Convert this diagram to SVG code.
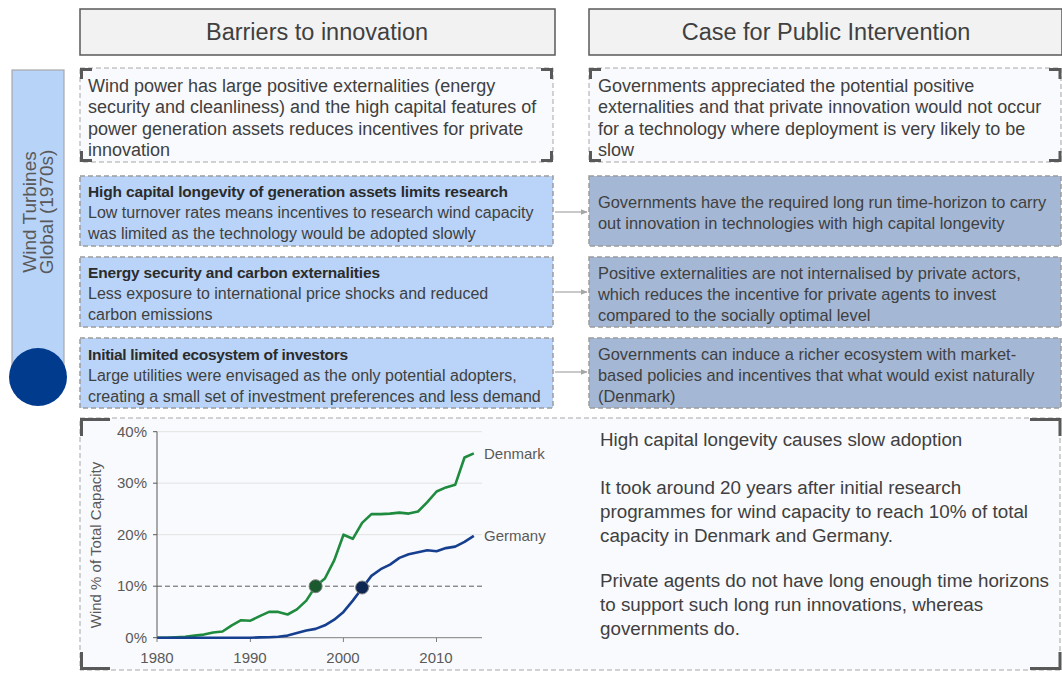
<svg xmlns="http://www.w3.org/2000/svg" width="1062" height="673" viewBox="0 0 1062 673">
  <style>
    .hdr { fill: #f2f2f2; stroke: #595959; stroke-width: 1.5; }
    .hdr-t { font-family: "Liberation Sans", Arial, sans-serif; font-size: 23.5px; fill: #404040; text-anchor: middle; }
    .t { font-family: "Liberation Sans", Arial, sans-serif; font-size: 16px; fill: #404040; }
    .tr { font-family: "Liberation Sans", Arial, sans-serif; font-size: 16.4px; fill: #404040; }
    .tl { font-family: "Liberation Sans", Arial, sans-serif; font-size: 18px; fill: #404040; }
    .tb { font-family: "Liberation Sans", Arial, sans-serif; font-size: 15.5px; fill: #2b2b2b; font-weight: bold; }
    .frame { fill: #f9fafd; stroke: #a6a6a6; stroke-width: 1; stroke-dasharray: 5 3; }
    .bracket { fill: none; stroke: #595959; stroke-width: 3; }
    .blue { fill: #b9d4f8; stroke: #9c9c9c; stroke-width: 1.5; stroke-dasharray: 5 3; }
    .slate { fill: #a4b7d5; stroke: #9c9c9c; stroke-width: 1.5; stroke-dasharray: 5 3; }
    .conn { stroke: #a6a6a6; stroke-width: 1.2; fill: none; }
    .ax { font-family: "Liberation Sans", Arial, sans-serif; font-size: 15px; fill: #595959; }
    .grid { stroke: #e3e3e3; stroke-width: 1; }
    .side { font-family: "Liberation Sans", Arial, sans-serif; font-size: 19px; fill: #595959; text-anchor: middle; }
    .big { font-family: "Liberation Sans", Arial, sans-serif; font-size: 18.8px; fill: #404040; }
  </style>
  <defs>
    <marker id="arr" viewBox="0 0 10 10" refX="9" refY="5" markerWidth="6" markerHeight="6" orient="auto">
      <path d="M0,1 L10,5 L0,9 z" fill="#a6a6a6"/>
    </marker>
  </defs>

  <!-- column headers -->
  <g id="hdr-barriers">
    <rect class="hdr" x="80" y="9" width="475" height="46"/>
    <text class="hdr-t" x="317" y="40">Barriers to innovation</text>
  </g>
  <g id="hdr-case">
    <rect class="hdr" x="589" y="9" width="473" height="46"/>
    <text class="hdr-t" x="826" y="40">Case for Public Intervention</text>
  </g>

  <!-- side label -->
  <g id="side-label">
    <rect x="12" y="70" width="52" height="310" fill="#b7d3f8" stroke="#a8a8a8" stroke-width="1.2"/>
    <text class="side" transform="translate(36 212) rotate(-90)">Wind Turbines</text>
    <text class="side" transform="translate(53 212) rotate(-90)">Global (1970s)</text>
    <circle cx="38" cy="377" r="29" fill="#003b8e"/>
  </g>

  <!-- row 1: summary -->
  <g id="barrier-summary">
    <rect class="frame" x="80" y="68" width="473" height="94"/>
    <path class="bracket" d="M81.5,79 V69.5 H92 M541,69.5 H551.5 V79 M551.5,151 V160.5 H541 M92,160.5 H81.5 V151"/>
    <text class="tl" x="88" y="92">Wind power has large positive externalities (energy</text>
    <text class="tl" x="88" y="113">security and cleanliness) and the high capital features of</text>
    <text class="tl" x="88" y="135">power generation assets reduces incentives for private</text>
    <text class="tl" x="88" y="156">innovation</text>
  </g>
  <g id="case-summary">
    <rect class="frame" x="589" y="68" width="472" height="94"/>
    <path class="bracket" d="M590.5,79 V69.5 H601 M1049,69.5 H1060 V79 M1060,151 V160.5 H1049 M601,160.5 H590.5 V151"/>
    <text class="tl" x="598" y="92">Governments appreciated the potential positive</text>
    <text class="tl" x="598" y="113">externalities and that private innovation would not occur</text>
    <text class="tl" x="598" y="135">for a technology where deployment is very likely to be</text>
    <text class="tl" x="598" y="156">slow</text>
  </g>

  <!-- row 2 -->
  <g id="barrier-longevity">
    <rect class="blue" x="80" y="176" width="473" height="70"/>
    <text class="tb" x="88" y="197" textLength="420" lengthAdjust="spacing">High capital longevity of generation assets limits research</text>
    <text class="t" x="88" y="218">Low turnover rates means incentives to research wind capacity</text>
    <text class="t" x="88" y="239">was limited as the technology would be adopted slowly</text>
  </g>
  <g id="case-longevity">
    <rect class="slate" x="589" y="176" width="472" height="70"/>
    <text class="tr" x="598" y="208">Governments have the required long run time-horizon to carry</text>
    <text class="tr" x="598" y="229">out innovation in technologies with high capital longevity</text>
  </g>

  <!-- row 3 -->
  <g id="barrier-externalities">
    <rect class="blue" x="80" y="257" width="473" height="70"/>
    <text class="tb" x="88" y="278" textLength="292" lengthAdjust="spacing">Energy security and carbon externalities</text>
    <text class="t" x="88" y="299">Less exposure to international price shocks and reduced</text>
    <text class="t" x="88" y="320">carbon emissions</text>
  </g>
  <g id="case-externalities">
    <rect class="slate" x="589" y="257" width="472" height="70"/>
    <text class="tr" x="598" y="279">Positive externalities are not internalised by private actors,</text>
    <text class="tr" x="598" y="300">which reduces the incentive for private agents to invest</text>
    <text class="tr" x="598" y="321">compared to the socially optimal level</text>
  </g>

  <!-- row 4 -->
  <g id="barrier-ecosystem">
    <rect class="blue" x="80" y="338" width="473" height="70"/>
    <text class="tb" x="88" y="360" textLength="260" lengthAdjust="spacing">Initial limited ecosystem of investors</text>
    <text class="t" x="88" y="381">Large utilities were envisaged as the only potential adopters,</text>
    <text class="t" x="88" y="402">creating a small set of investment preferences and less demand</text>
  </g>
  <g id="case-ecosystem">
    <rect class="slate" x="589" y="338" width="472" height="70"/>
    <text class="tr" x="598" y="360">Governments can induce a richer ecosystem with market-</text>
    <text class="tr" x="598" y="381">based policies and incentives that what would exist naturally</text>
    <text class="tr" x="598" y="402">(Denmark)</text>
  </g>

  <!-- connectors -->
  <g id="connectors">
    <line class="conn" x1="555" y1="212" x2="587" y2="212" marker-end="url(#arr)"/>
    <line class="conn" x1="555" y1="292" x2="587" y2="292" marker-end="url(#arr)"/>
    <line class="conn" x1="555" y1="372" x2="587" y2="372" marker-end="url(#arr)"/>
  </g>

  <!-- bottom panel: chart and commentary -->
  <g id="evidence-panel">
    <rect class="frame" x="80" y="418" width="980" height="252" fill="#fbfcfe"/>
    <path class="bracket" d="M81.5,436 V419.5 H110 M1030,419.5 H1060 V436 M1060,652 V668.5 H1030 M110,668.5 H81.5 V652"/>

    <!-- gridlines -->
    <line class="grid" x1="157" y1="431.7" x2="482" y2="431.7"/>
    <line class="grid" x1="157" y1="483.2" x2="482" y2="483.2"/>
    <line class="grid" x1="157" y1="534.7" x2="482" y2="534.7"/>
    <line x1="157" y1="586.2" x2="482" y2="586.2" stroke="#595959" stroke-width="1" stroke-dasharray="5 3"/>
    <!-- axes -->
    <path d="M153,431.7 H157 V637.7 M153,483.2 H157 M153,534.7 H157 M153,586.2 H157 M153,637.7 H157" stroke="#595959" stroke-width="1" fill="none"/>
    <path d="M157,637.7 H482 M157,637.7 V642 M250.4,637.7 V642 M343.4,637.7 V642 M436.5,637.7 V642" stroke="#7f7f7f" stroke-width="1" fill="none"/>

    <g class="ax" text-anchor="end">
      <text x="147" y="437">40%</text>
      <text x="147" y="488">30%</text>
      <text x="147" y="540">20%</text>
      <text x="147" y="591">10%</text>
      <text x="147" y="643">0%</text>
    </g>
    <g class="ax" text-anchor="middle">
      <text x="157" y="663">1980</text>
      <text x="250" y="663">1990</text>
      <text x="343" y="663">2000</text>
      <text x="436" y="663">2010</text>
    </g>
    <text class="ax" text-anchor="middle" font-size="15.5" transform="translate(101 545) rotate(-90)">Wind % of Total Capacity</text>

    <!-- Denmark series -->
    <polyline fill="none" stroke="#1e8b3e" stroke-width="2.6" stroke-linejoin="round"
      points="157.3,637.7 166.6,637.7 175.9,637.2 185.2,636.7 194.5,635.6 203.8,634.6 213.2,632.5 222.5,631.5 231.8,625.3 241.1,620.2 250.4,620.7 259.7,616.1 269.0,611.9 278.3,611.9 287.6,614.5 296.9,609.4 306.3,600.6 315.6,586.2 324.9,578.5 334.2,560.4 343.5,534.7 352.8,538.8 362.1,522.9 371.4,514.1 380.7,514.1 390.0,513.6 399.4,512.6 408.7,513.6 418.0,511.5 427.3,502.2 436.6,491.5 445.9,487.4 455.2,484.8 464.5,457.5 473.8,453.4"/>
    <!-- Germany series -->
    <polyline fill="none" stroke="#173f8f" stroke-width="2.6" stroke-linejoin="round"
      points="157.3,637.7 250.4,637.7 259.7,637.4 269.0,637.2 278.3,636.7 287.6,635.6 296.9,633.1 306.3,630.5 315.6,628.9 324.9,625.3 334.2,619.7 343.5,611.9 352.8,600.6 362.1,588.3 371.4,575.9 380.7,569.2 390.0,564.6 399.4,557.9 408.7,554.3 418.0,552.2 427.3,550.2 436.6,551.2 445.9,548.1 455.2,546.6 464.5,541.9 473.8,535.8"/>

    <circle cx="315.6" cy="586.2" r="6.5" fill="#1b5a2e" stroke="#7f7f7f" stroke-width="1"/>
    <circle cx="362.1" cy="587.5" r="6.5" fill="#0d2652" stroke="#7f7f7f" stroke-width="1"/>

    <text class="ax" x="484" y="459">Denmark</text>
    <text class="ax" x="484" y="541">Germany</text>

    <text class="big" x="600" y="446" font-size="19">High capital longevity causes slow adoption</text>
    <text class="big" x="600" y="494">It took around 20 years after initial research</text>
    <text class="big" x="600" y="518">programmes for wind capacity to reach 10% of total</text>
    <text class="big" x="600" y="542">capacity in Denmark and Germany.</text>
    <text class="big" x="600" y="587">Private agents do not have long enough time horizons</text>
    <text class="big" x="600" y="611">to support such long run innovations, whereas</text>
    <text class="big" x="600" y="635">governments do.</text>
  </g>
</svg>
